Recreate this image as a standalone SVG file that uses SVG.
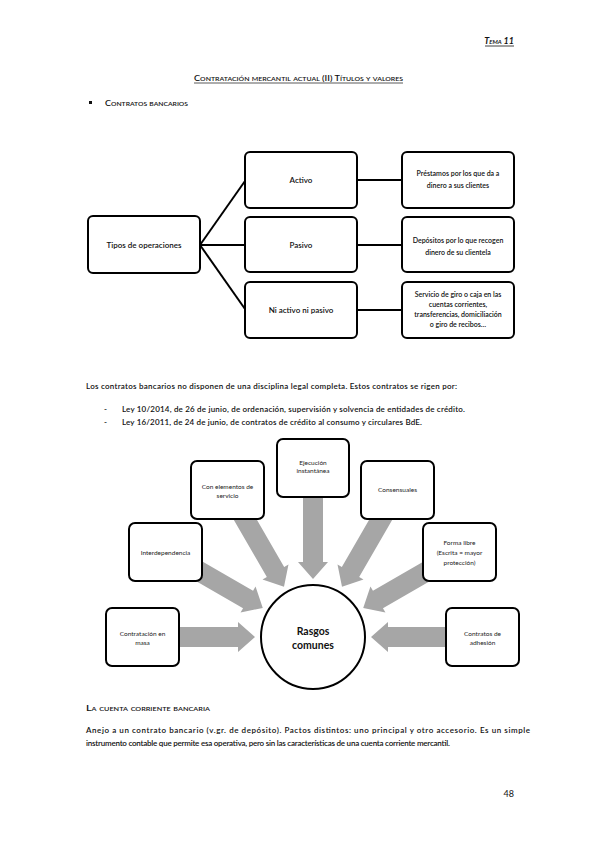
<svg xmlns="http://www.w3.org/2000/svg" width="599" height="848" viewBox="0 0 599 848">
<style>
text{font-family:Lato,"Liberation Sans",sans-serif;fill:#111}
.t{font-size:8px;font-weight:600}
.c{text-anchor:middle}
.s{font-size:6.5px;fill:#222;text-anchor:middle}
.box{fill:#fff;stroke:#000;stroke-width:2}
.ln{stroke:#000;stroke-width:2;fill:none}
.arr{fill:#a6a6a6}
</style>
<defs>
<polygon id="arrow" points="-145,-10 -75,-10 -75,-15 -58,0 -75,15 -75,10 -145,10"/>
</defs>
<rect width="599" height="848" fill="#fff"/>

<g id="header">
<text x="514" y="44" text-anchor="end" style="font-size:9px;font-weight:700;font-style:italic;font-variant:small-caps">Tema 11</text>
<line x1="485" y1="46" x2="514" y2="46" stroke="#111" stroke-width="0.8"/>
<text x="194" y="81" textLength="209" lengthAdjust="spacingAndGlyphs" style="font-size:8px;font-weight:600;font-variant:small-caps">Contratación mercantil actual (II) Títulos y valores</text>
<line x1="194" y1="83" x2="403" y2="83" stroke="#111" stroke-width="0.7"/>
<rect x="89" y="101" width="3" height="3" fill="#111"/>
<text x="105" y="106" textLength="83" lengthAdjust="spacingAndGlyphs" style="font-size:8px;font-weight:600;font-variant:small-caps">Contratos bancarios</text>
</g>

<g id="connectors">
<line class="ln" x1="200" y1="245" x2="245" y2="181"/>
<line class="ln" x1="200" y1="245" x2="245" y2="245"/>
<line class="ln" x1="200" y1="245" x2="245" y2="309"/>
<line class="ln" x1="357" y1="180" x2="402" y2="180"/>
<line class="ln" x1="357" y1="245" x2="402" y2="245"/>
<line class="ln" x1="357" y1="310" x2="402" y2="310"/>
</g>

<g id="tipos"><rect class="box" x="88" y="216" width="112" height="57" rx="5"/><text class="t c" x="144" y="248">Tipos de operaciones</text></g>
<g id="activo"><rect class="box" x="245" y="152" width="112" height="56" rx="5"/><text class="t c" x="301" y="183">Activo</text></g>
<g id="pasivo"><rect class="box" x="245" y="217" width="112" height="55" rx="5"/><text class="t c" x="301" y="248">Pasivo</text></g>
<g id="ni"><rect class="box" x="245" y="282" width="112" height="56" rx="5"/><text class="t c" x="301" y="313">Ni activo ni pasivo</text></g>
<g id="prestamos"><rect class="box" x="402" y="152" width="112" height="56" rx="5"/><text class="t c" x="458" y="176" style="font-size:7px">Préstamos por los que da a</text><text class="t c" x="458" y="188" style="font-size:7px">dinero a sus clientes</text></g>
<g id="depositos"><rect class="box" x="402" y="217" width="112" height="55" rx="5"/><text class="t c" x="458" y="243" style="font-size:7px">Depósitos por lo que recogen</text><text class="t c" x="458" y="255" style="font-size:7px">dinero de su clientela</text></g>
<g id="servicio"><rect class="box" x="402" y="282" width="112" height="56" rx="5"/><text class="t c" x="458" y="297" style="font-size:7px">Servicio de giro o caja en las</text><text class="t c" x="458" y="307" style="font-size:7px">cuentas corrientes,</text><text class="t c" x="458" y="317" style="font-size:7px">transferencias, domiciliación</text><text class="t c" x="458" y="327" style="font-size:7px">o giro de recibos…</text></g>

<g id="para">
<text class="t" x="86" y="389" textLength="371" lengthAdjust="spacing">Los contratos bancarios no disponen de una disciplina legal completa. Estos contratos se rigen por:</text>
<text class="t" x="104" y="412">-</text>
<text class="t" x="122" y="412" textLength="343" lengthAdjust="spacing">Ley 10/2014, de 26 de junio, de ordenación, supervisión y solvencia de entidades de crédito.</text>
<text class="t" x="104" y="425">-</text>
<text class="t" x="122" y="425" textLength="300" lengthAdjust="spacing">Ley 16/2011, de 24 de junio, de contratos de crédito al consumo y circulares BdE.</text>
</g>

<g id="arrows">
<use href="#arrow" class="arr" transform="translate(313 637)"/>
<use href="#arrow" class="arr" transform="translate(313 637) rotate(30)"/>
<use href="#arrow" class="arr" transform="translate(313 637) rotate(60)"/>
<use href="#arrow" class="arr" transform="translate(313 637) rotate(90)"/>
<use href="#arrow" class="arr" transform="translate(313 637) rotate(120)"/>
<use href="#arrow" class="arr" transform="translate(313 637) rotate(150)"/>
<use href="#arrow" class="arr" transform="translate(313 637) rotate(180)"/>
</g>

<g id="rasgos"><circle cx="313" cy="637" r="52" fill="#fff" stroke="#000" stroke-width="2"/>
<text class="c" x="313" y="635" style="font-size:10.5px;font-weight:700">Rasgos</text><text class="c" x="313" y="649" style="font-size:10.5px;font-weight:700">comunes</text></g>

<g id="masa"><rect class="box" x="106" y="608" width="73" height="58" rx="6"/><text class="s" x="142.5" y="636">Contratación en</text><text class="s" x="142.5" y="645">masa</text></g>
<g id="interdependencia"><rect class="box" x="129" y="523" width="73" height="58" rx="6"/><text class="s" x="165.5" y="555">Interdependencia</text></g>
<g id="elementos"><rect class="box" x="191" y="461" width="73" height="58" rx="6"/><text class="s" x="227.5" y="489">Con elementos de</text><text class="s" x="227.5" y="498">servicio</text></g>
<g id="ejecucion"><rect class="box" x="277" y="439" width="72" height="58" rx="6"/><text class="s" x="313" y="465">Ejecución</text><text class="s" x="313" y="473">instantánea</text></g>
<g id="consensuales"><rect class="box" x="361" y="461" width="73" height="58" rx="6"/><text class="s" x="397.5" y="492">Consensuales</text></g>
<g id="forma"><rect class="box" x="423" y="523" width="73" height="58" rx="6"/><text class="s" x="459.5" y="545">Forma libre</text><text class="s" x="459.5" y="555">(Escrita = mayor</text><text class="s" x="459.5" y="565">protección)</text></g>
<g id="adhesion"><rect class="box" x="446" y="608" width="73" height="58" rx="6"/><text class="s" x="482.5" y="636">Contratos de</text><text class="s" x="482.5" y="645">adhesión</text></g>

<g id="cuenta">
<text x="86" y="711" textLength="124" lengthAdjust="spacingAndGlyphs" style="font-size:7.5px;font-weight:600;font-variant:small-caps">La cuenta corriente bancaria</text>
<text class="t" x="86" y="733" textLength="444" lengthAdjust="spacing">Anejo a un contrato bancario (v.gr. de depósito).  Pactos distintos: uno principal y otro accesorio. Es un simple</text>
<text class="t" x="86" y="746" textLength="364" lengthAdjust="spacing">instrumento contable que permite esa operativa, pero sin las características de una cuenta corriente mercantil.</text>
</g>
<text x="514" y="797" text-anchor="end" style="font-size:9px">48</text>
</svg>
